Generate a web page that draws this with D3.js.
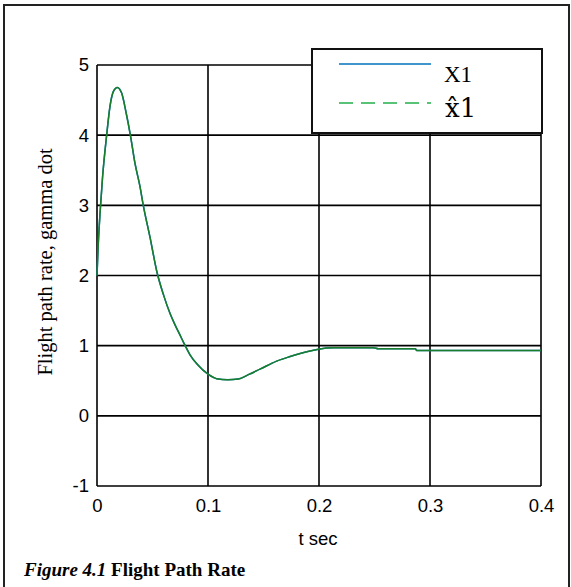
<!DOCTYPE html>
<html><head><meta charset="utf-8">
<script src="https://cdn.jsdelivr.net/npm/d3@7"></script>
<style>body{margin:0;background:#fff}svg{display:block}</style>
</head><body>
<svg id="c" width="571" height="587"></svg>
<script>
const tValues = [0,0.001,0.003,0.005,0.0087,0.0117,0.0147,0.0183,0.0222,0.0261,0.0303,0.0342,0.0387,0.0417,0.0477,0.054,0.06,0.066,0.0705,0.0745,0.0785,0.0838,0.0905,0.1003,0.1078,0.1178,0.1273,0.1368,0.1468,0.1619,0.174,0.1919,0.1994,0.2129,0.249,0.2535,0.2868,0.288,0.4];
const x1Values = [2.0,2.4,2.95,3.4,4.0,4.41,4.62,4.68,4.6,4.33,3.98,3.6,3.27,3.0,2.55,2.05,1.72,1.45,1.29,1.16,1.03,0.87,0.73,0.59,0.53,0.515,0.525,0.59,0.665,0.78,0.845,0.925,0.95,0.97,0.97,0.955,0.955,0.93,0.93];
const x1HatValues = [2.0,2.4,2.95,3.4,4.0,4.41,4.62,4.68,4.6,4.33,3.98,3.6,3.27,3.0,2.55,2.05,1.72,1.45,1.29,1.16,1.03,0.87,0.73,0.59,0.53,0.515,0.525,0.59,0.665,0.78,0.845,0.925,0.95,0.97,0.97,0.955,0.955,0.93,0.93];
const xTicks = [0,0.1,0.2,0.3,0.4];
const yTicks = [-1,0,1,2,3,4,5];
const seriesNames = ["X1","x\u03021"];

const svg = d3.select("#c");
const x = d3.scaleLinear().domain([0,0.4]).range([97,541]);
const y = d3.scaleLinear().domain([-1,5]).range([486,65]);
const sans = "Liberation Sans, Arial, sans-serif";
const serif = "Liberation Serif, Times New Roman, serif";

// outer frame
svg.append("path").attr("d","M4,590 V5 H569 V590").attr("fill","none").attr("stroke","#222").attr("stroke-width",2);

// grid
const g = svg.append("g");
g.selectAll(".gx").data(xTicks).join("line").attr("x1",d=>x(d)).attr("x2",d=>x(d)).attr("y1",65).attr("y2",486).attr("stroke","#000").attr("stroke-width",1.6);
g.selectAll(".gy").data(yTicks).join("line").attr("y1",d=>y(d)).attr("y2",d=>y(d)).attr("x1",97).attr("x2",541).attr("stroke","#000").attr("stroke-width",1.6);

// axes labels
const yAxis = d3.axisLeft(y).tickValues(yTicks).tickSize(0).tickPadding(8).tickFormat(d=>String(d));
const ya = svg.append("g").attr("transform","translate(97,0)").call(yAxis);
ya.select(".domain").remove();
ya.selectAll("text").attr("font-family",sans).attr("font-size",18.5).attr("fill","#000");
const xAxis = d3.axisBottom(x).tickValues(xTicks).tickSize(0).tickPadding(13).tickFormat(d=>d===0?"0":d3.format(".1f")(d));
const xa = svg.append("g").attr("transform","translate(0,486)").call(xAxis);
xa.select(".domain").remove();
xa.selectAll("text").attr("font-family",sans).attr("font-size",18.5).attr("fill","#000");

svg.append("text").attr("x",318).attr("y",545).attr("text-anchor","middle").attr("font-family",sans).attr("font-size",18.5).text("t sec");
svg.append("text").attr("transform","translate(52,262) rotate(-90)").attr("text-anchor","middle").attr("font-family",serif).attr("font-size",20.5).text("Flight path rate,  gamma dot");

// lines
const line = d3.line().x((d,i)=>x(tValues[i])).y(d=>y(d)).curve(d3.curveMonotoneX);
svg.append("path").datum(x1Values).attr("d",line).attr("fill","none").attr("stroke","#0072BD").attr("stroke-width",1.5);
svg.append("path").datum(x1HatValues).attr("d",line).attr("fill","none").attr("stroke","#1a7d2a").attr("stroke-width",1.5);

// legend
const lg = svg.append("g");
lg.append("rect").attr("x",312).attr("y",49).attr("width",230).attr("height",84).attr("fill","#fff").attr("stroke","#111").attr("stroke-width",2);
lg.append("line").attr("x1",339).attr("x2",431).attr("y1",64).attr("y2",64).attr("stroke","#0072BD").attr("stroke-width",1.5);
lg.append("line").attr("x1",339).attr("x2",431).attr("y1",103).attr("y2",103).attr("stroke","#22b04a").attr("stroke-width",1.5).attr("stroke-dasharray","14,8");
lg.append("text").attr("x",444).attr("y",82).attr("font-family",serif).attr("font-size",23).text(seriesNames[0]);
lg.append("text").attr("x",445).attr("y",117).attr("font-family","DejaVu Serif, Liberation Serif, serif").attr("font-size",26).text(seriesNames[1]);

// caption
const cap = svg.append("text").attr("x",24).attr("y",576).attr("font-family",serif).attr("font-size",19).attr("font-weight","bold");
cap.append("tspan").attr("font-style","italic").text("Figure 4.1");
cap.append("tspan").text(" Flight Path Rate");
</script>
</body></html>
